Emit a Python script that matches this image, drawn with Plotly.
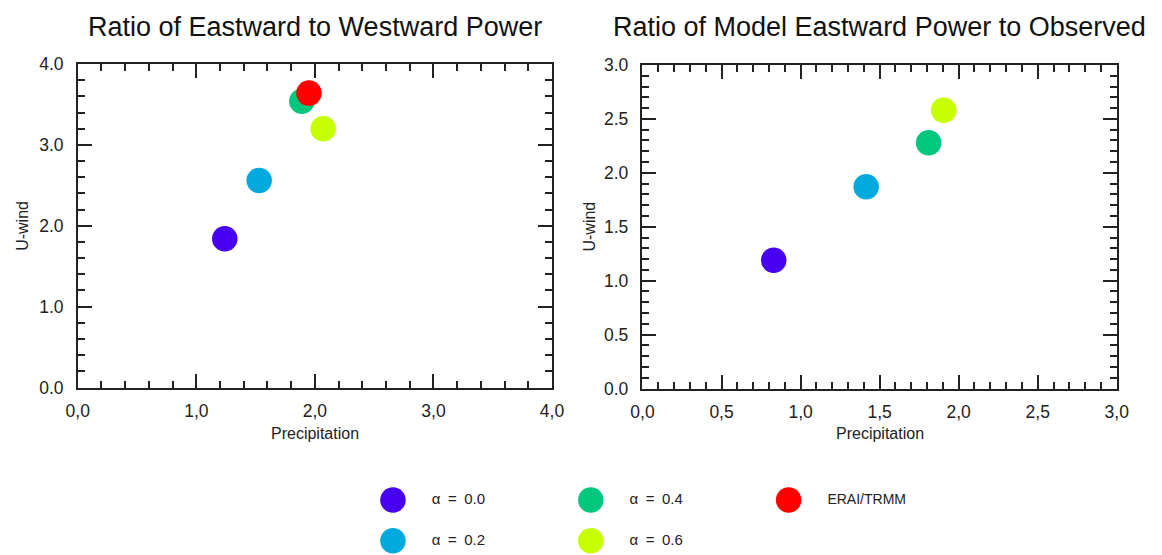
import plotly.graph_objects as go

# Experiment labels and marker colours
labels = ["α\u2002=\u20020.0", "α\u2002=\u20020.2", "α\u2002=\u20020.4",
          "α\u2002=\u20020.6", "ERAI/TRMM"]
colors = ["#4700f0", "#00aade", "#00c77d", "#c6ff00", "#ff0000"]

# Ratio of eastward to westward power (all experiments + observations)
ew_precip = [1.24, 1.53, 1.89, 2.07, 1.95]
ew_uwind = [1.84, 2.56, 3.54, 3.20, 3.64]

# Ratio of model eastward power to observed (models only)
mo_precip = [0.83, 1.415, 1.81, 1.905]
mo_uwind = [1.19, 1.87, 2.28, 2.58]

# Tick labels
left_xticks = [0, 1, 2, 3, 4]
left_xtext = ["0,0", "1,0", "2,0", "3,0", "4,0"]
left_yticks = [0, 1, 2, 3, 4]
left_ytext = ["0.0", "1.0", "2.0", "3.0", "4.0"]
right_xticks = [0, 0.5, 1.0, 1.5, 2.0, 2.5, 3.0]
right_xtext = ["0,0", "0,5", "1,0", "1,5", "2,0", "2,5", "3,0"]
right_yticks = [0, 0.5, 1.0, 1.5, 2.0, 2.5, 3.0]
right_ytext = ["0.0", "0.5", "1.0", "1.5", "2.0", "2.5", "3.0"]

# Figure size and the view transform of the page (body margin + view scale)
W, H = 1162, 565
SX, SY = 0.985, 0.969
MX, MY = 9, 8
INK = "#222222"
MSIZE = 25.5
FONT = "Liberation Sans, Arial, Helvetica, sans-serif"


def px_x(p):
    """Horizontal view pixel -> paper fraction."""
    return (p / SX - MX) / W


def px_y(p):
    """Vertical view pixel -> paper fraction."""
    return 1 - (p / SY - MY) / H


fig = go.Figure()

for i in range(len(ew_precip)):
    fig.add_trace(go.Scatter(
        x=[ew_precip[i]], y=[ew_uwind[i]], mode="markers",
        marker=dict(size=MSIZE, color=colors[i], line=dict(width=0)),
        xaxis="x", yaxis="y", showlegend=False, hoverinfo="skip"))

for i in range(len(mo_precip)):
    fig.add_trace(go.Scatter(
        x=[mo_precip[i]], y=[mo_uwind[i]], mode="markers",
        marker=dict(size=MSIZE, color=colors[i], line=dict(width=0)),
        xaxis="x2", yaxis="y2", showlegend=False, hoverinfo="skip"))

# Legend key: two rows, filled column by column, on a view-pixel overlay axis
leg_col_x = [392, 591, 790]
leg_row_y = [500, 541]
leg_text_dx = 39
for i, lab in enumerate(labels):
    cx = leg_col_x[i // 2]
    cy = leg_row_y[i % 2]
    fig.add_trace(go.Scatter(
        x=[cx], y=[cy], mode="markers",
        marker=dict(size=MSIZE, color=colors[i], line=dict(width=0)),
        xaxis="x3", yaxis="y3", showlegend=False, hoverinfo="skip"))
    fig.add_trace(go.Scatter(
        x=[cx + leg_text_dx], y=[cy], mode="text", text=[lab],
        textposition="middle right",
        textfont=dict(size=14 if i == 4 else 15, color=INK, family=FONT),
        xaxis="x3", yaxis="y3", showlegend=False, hoverinfo="skip"))


def frame_axis(domain, rng, tickvals, ticktext, minor_step, anchor, standoff):
    return dict(
        domain=domain, range=rng, anchor=anchor,
        tickmode="array", tickvals=tickvals, ticktext=ticktext,
        ticks="inside", ticklen=14, tickwidth=1.5, tickcolor=INK,
        minor=dict(ticks="inside", dtick=minor_step, ticklen=7,
                   tickwidth=1.5, tickcolor=INK, showgrid=False),
        showline=True, linewidth=1.5, linecolor=INK, mirror="ticks",
        showgrid=False, zeroline=False, ticklabelstandoff=standoff,
        tickfont=dict(size=17.5, color=INK, family=FONT),
    )


xl = [px_x(75), px_x(552)]
xr = [px_x(643), px_x(1120)]
yl = [px_y(387), px_y(62)]
yr = [px_y(388), px_y(63)]


def text_note(text, x, y, size, angle=0, color=INK):
    return dict(text=text, x=x, y=y, xref="paper", yref="paper",
                showarrow=False, xanchor="center", yanchor="middle",
                textangle=angle, font=dict(size=size, color=color, family=FONT))


fig.update_layout(
    width=W, height=H,
    margin=dict(l=0, r=0, t=0, b=0),
    paper_bgcolor="white", plot_bgcolor="rgba(0,0,0,0)",
    font=dict(family=FONT, color=INK),
    xaxis=frame_axis(xl, [0, 4], left_xticks, left_xtext, 0.2, "y", 7),
    yaxis=frame_axis(yl, [0, 4], left_yticks, left_ytext, 0.2, "x", 9),
    xaxis2=frame_axis(xr, [0, 3], right_xticks, right_xtext, 0.1, "y2", 7),
    yaxis2=frame_axis(yr, [0, 3], right_yticks, right_ytext, 0.1, "x2", 9),
    xaxis3=dict(domain=[0, 1], range=[MX * SX, (W + MX) * SX], visible=False,
                anchor="y3", fixedrange=True),
    yaxis3=dict(domain=[0, 1], range=[(H + MY) * SY, MY * SY], visible=False,
                anchor="x3", fixedrange=True),
    annotations=[
        text_note("Ratio of Eastward to Westward Power", sum(xl) / 2, px_y(25),
                  27, color="#111111"),
        text_note("Ratio of Model Eastward Power to Observed", sum(xr) / 2,
                  px_y(25), 27, color="#111111"),
        text_note("Precipitation", sum(xl) / 2, px_y(433), 16),
        text_note("Precipitation", sum(xr) / 2, px_y(433), 16),
        text_note("U-wind", px_x(20), sum(yl) / 2, 16, angle=-90),
        text_note("U-wind", px_x(590), sum(yr) / 2, 16, angle=-90),
    ],
)

fig.write_html("out.html")
